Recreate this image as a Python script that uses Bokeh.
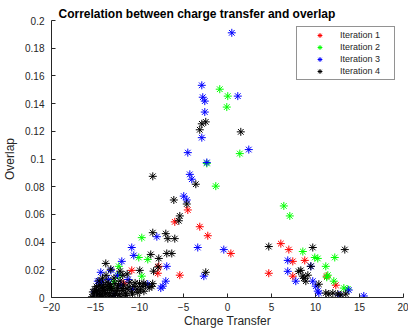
from bokeh.plotting import figure
from bokeh.models import Range1d, FixedTicker, CustomJSTickFormatter, Legend
from bokeh.embed import file_html
from bokeh.resources import INLINE

# Charge transfer (x) and overlap (y) per iteration
iter1_ct = [-4.51, -5.99, -3.15, -2.24, 0.38, -5.42, -7.81, -7.92, -10.88, -11.78,
            4.69, 6.06, 6.97, 7.42, 7.42, 8.78, 11.28, 12.31]
iter1_ov = [0.0632, 0.0546, 0.0511, 0.0446, 0.0318, 0.0161, 0.0225, 0.0175, 0.0196, 0.0104,
            0.0175, 0.0389, 0.0346, 0.0261, 0.0154, 0.0268, 0.0154, 0.0089]

iter2_ct = [-0.88, 0.03, -0.08, 1.40, -2.35, -1.33, -9.74, -10.08, -9.06, -12.35,
            -12.92, -9.74, -12.35, 6.40, 7.08, 8.56, 9.92, 10.26, 12.19, 11.17,
            11.28, 11.40, 12.08, 13.22, 13.67, -13.2]
iter2_ov = [0.1504, 0.1454, 0.1375, 0.1039, 0.0968, 0.0804, 0.0432, 0.0289, 0.0275, 0.0225,
            0.0118, 0.0154, 0.0161, 0.0661, 0.0589, 0.0332, 0.0289, 0.0282, 0.0289, 0.0225,
            0.0146, 0.0161, 0.0118, 0.0068, 0.0061, 0.0070]

iter3_ct = [0.49, -2.92, -2.81, -2.58, 1.17, -2.58, -2.92, -4.51, 2.42, -2.35,
            -4.28, -4.06, -4.97, -4.63, -8.03, -3.38, -0.42, -6.90, -7.01, -7.35,
            -2.69, -10.88, -10.65, -12.01, -13.26, -14.40, -14.74, -9.06, -7.58, 6.85,
            6.85, 7.76, 9.47, 9.69, 10.03, 10.38, 10.26, 13.78, 15.49, 12.65,
            -15.1, -14.3, -13.5, -12.5, -11.3, -10.8, -12.9, -12.1]
iter3_ov = [0.1911, 0.1532, 0.1446, 0.1418, 0.1454, 0.1339, 0.1154, 0.1046, 0.1068, 0.0975,
            0.0889, 0.0854, 0.0732, 0.0704, 0.0439, 0.0361, 0.0346, 0.0225, 0.0118, 0.0082,
            0.0154, 0.0361, 0.0304, 0.0261, 0.0196, 0.0182, 0.0118, 0.0096, 0.0068, 0.0268,
            0.0189, 0.0118, 0.0225, 0.0118, 0.0082, 0.0032, 0.0046, 0.0054, 0.0011, 0.0018,
            0.004, 0.011, 0.013, 0.016, 0.013, 0.006, 0.0015, 0.009]

iter4_ct = [-2.47, -2.92, -3.15, 1.51, -3.60, -6.10, -4.63, -5.42, -5.53, -8.49,
            -8.49, -7.01, -6.78, -5.99, -6.90, -6.33, -7.81, -8.72, -2.47, -13.83,
            -13.26, -9.97, -9.51, 4.69, 9.69, 13.33, 9.47, 8.33, 8.56, 8.67,
            9.13, 8.10, 8.90, 10.38, 11.17, 11.97, 12.53, 12.88, 11.51, 13.44,
            -15.2, -15.0, -14.8, -14.7, -14.5, -14.4, -14.3, -14.1, -14.0, -13.9,
            -13.7, -13.6, -13.4, -13.3, -13.1, -13.0, -12.8, -12.7, -12.5, -12.3,
            -12.2, -12.0, -11.8, -11.6, -11.4, -11.1, -10.9, -10.6, -10.3, -10.0,
            -9.7, -9.3, -8.9, -8.5, -14.9, -14.6, -14.2, -13.8, -12.9, -11.9,
            -12.2, -11.4, -8.4, -8.6, -7.9,
            -15.4, -15.3, -15.1, -14.9, -14.6, -14.5, -14.2, -14.2, -13.9, -13.8,
            -13.5, -13.5, -13.2, -12.9, -12.6, -12.4, -12.1, -11.9, -11.5, -11.2,
            -10.8, -10.5, -10.2, -9.9, -9.5]
iter4_ov = [0.1268, 0.1254, 0.1211, 0.1196, 0.0818, 0.0704, 0.0675, 0.0589, 0.0554, 0.0875,
            0.0468, 0.0461, 0.0425, 0.0425, 0.0318, 0.0318, 0.0282, 0.0311, 0.0182, 0.0246,
            0.0204, 0.0196, 0.0104, 0.0368, 0.0361, 0.0346, 0.0225, 0.0196, 0.0154, 0.0139,
            0.0161, 0.0189, 0.0118, 0.0096, 0.0032, 0.0032, 0.0025, 0.0018, 0.0025, 0.0025,
            0.001, 0.003, 0.002, 0.005, 0.001, 0.007, 0.003, 0.009, 0.005, 0.002,
            0.011, 0.006, 0.003, 0.008, 0.001, 0.005, 0.010, 0.003, 0.007, 0.002,
            0.012, 0.005, 0.009, 0.003, 0.006, 0.011, 0.004, 0.008, 0.006, 0.010,
            0.008, 0.009, 0.007, 0.010, 0.008, 0.012, 0.014, 0.016, 0.014, 0.016,
            0.019, 0.017, 0.019, 0.008, 0.022,
            0.0005, 0.004, 0.006, 0.0045, 0.0025, 0.009, 0.0005, 0.006, 0.0075, 0.0035,
            0.0095, 0.0005, 0.0065, 0.0015, 0.0045, 0.009, 0.0005, 0.0065, 0.0015, 0.0075,
            0.0025, 0.0105, 0.0035, 0.0055, 0.0045]

series_names = ["Iteration 1", "Iteration 2", "Iteration 3", "Iteration 4"]
series_colors = ["#ff0000", "#00ff00", "#0000ff", "#000000"]

x_ticks = [-20, -15, -10, -5, 0, 5, 10, 15, 20]
y_ticks = [0, 0.02, 0.04, 0.06, 0.08, 0.1, 0.12, 0.14, 0.16, 0.18, 0.2]

FONT = "Liberation Sans"
INK = "#262626"

p = figure(width=408, height=330, output_backend="svg", toolbar_location=None,
           x_range=Range1d(-20, 20), y_range=Range1d(0, 0.2),
           min_border_left=51, min_border_right=5, min_border_top=20, min_border_bottom=30,
           title="Correlation between charge transfer and overlap")
p.outline_line_color = None
p.background_fill_color = "white"
p.border_fill_color = "white"
p.xgrid.visible = False
p.ygrid.visible = False

p.title.text_font = FONT
p.title.text_font_size = "12px"
p.title.text_font_style = "bold"
p.title.text_color = "#000000"
p.title.align = "left"
p.title.offset = 7
p.title.standoff = 0

for ax in (p.xaxis[0], p.yaxis[0]):
    ax.axis_line_color = INK
    ax.major_tick_line_color = INK
    ax.major_tick_in = 4
    ax.major_tick_out = 0
    ax.minor_tick_line_color = None
    ax.major_label_text_font = FONT
    ax.major_label_text_font_size = "10px"
    ax.major_label_text_color = INK
    ax.axis_label_text_font = FONT
    ax.axis_label_text_font_size = "12px"
    ax.axis_label_text_font_style = "normal"
    ax.axis_label_text_color = INK

p.xaxis.ticker = FixedTicker(ticks=x_ticks)
p.yaxis.ticker = FixedTicker(ticks=y_ticks)
p.yaxis.formatter = CustomJSTickFormatter(code="return (Math.round(tick*100)/100).toString();")
p.xaxis.axis_label = "Charge Transfer"
p.yaxis.axis_label = "Overlap"
p.xaxis.major_label_standoff = 5
p.xaxis.axis_label_standoff = 0
p.yaxis.major_label_standoff = 7
p.yaxis.axis_label_standoff = 5

all_x = [iter1_ct, iter2_ct, iter3_ct, iter4_ct]
all_y = [iter1_ov, iter2_ov, iter3_ov, iter4_ov]
items = []
for xs, ys, name, col in zip(all_x, all_y, series_names, series_colors):
    r = p.scatter(xs, ys, marker="asterisk", size=8, line_color=col, line_width=1)
    items.append((name, [r]))

# boxed legend in the upper right corner of the axes
legend = Legend(items=items, location=(245, 217))
legend.border_line_color = INK
legend.border_line_width = 1
legend.background_fill_color = "white"
legend.background_fill_alpha = 1
legend.padding = 2
legend.margin = 0
legend.spacing = 0
legend.glyph_height = 12
legend.glyph_width = 41
legend.label_height = 12
legend.label_width = 52
legend.label_standoff = 0
legend.label_text_font = FONT
legend.label_text_font_size = "9px"
legend.label_text_color = INK
p.add_layout(legend, "center")

open("out.html", "w").write(file_html(p, INLINE))
